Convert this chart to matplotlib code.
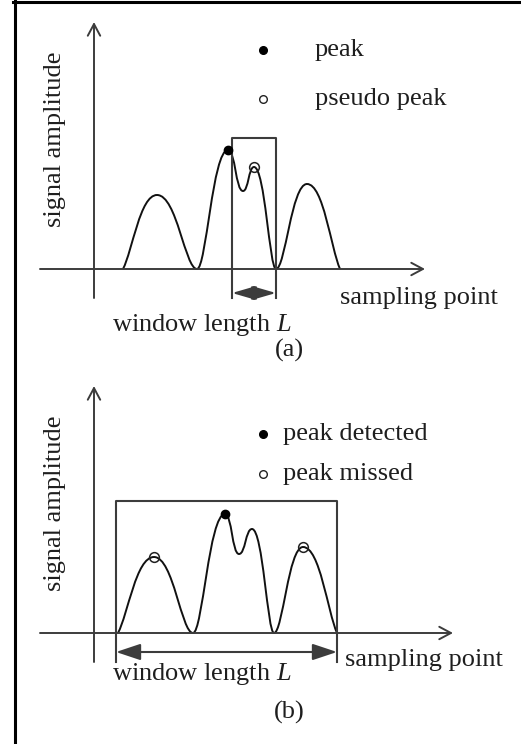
import matplotlib.pyplot as plt
from matplotlib.path import Path
from matplotlib.patches import PathPatch
from matplotlib.lines import Line2D

plt.rcParams['font.family'] = 'Liberation Serif'
plt.rcParams['mathtext.fontset'] = 'custom'
plt.rcParams['mathtext.rm'] = 'Liberation Serif'
plt.rcParams['mathtext.it'] = 'Liberation Serif:italic'

# waveform extremes (sample position, amplitude); amplitude 0 = touches the axis
wave_x_a = [2.9, 6.3, 10.3, 13.4, 14.9, 16.0, 18.2, 21.3, 24.6]
wave_y_a = [0.0, 7.4, 0.0, 11.9, 7.8, 10.2, 0.0, 8.5, 0.0]
wave_x_b = [2.4, 6.0, 9.9, 13.1, 14.5, 15.8, 18.0, 20.9, 24.3]
wave_y_b = [0.0, 7.6, 0.0, 11.9, 7.9, 10.4, 0.0, 8.6, 0.0]

# which extremes get a marker
filled_a = [3]
hollow_a = [5]
filled_b = [3]
hollow_b = [1, 7]

# window: start, end, top
window_a = (13.8, 18.2, 13.1)
window_b = (2.2, 24.3, 13.2)

legend_a = ['peak', 'pseudo peak']
legend_b = ['peak detected', 'peak missed']

AX_C = '#3c3c3c'
TXT_C = '#1e1e1e'
FS = 19


def handle(xs, ys, i, dx, dy, sign):
    # end points leave the axis at an angle, everything else is a smooth turn
    if i == 0 or i == len(xs) - 1:
        return (xs[i] + sign * 0.28 * dx, ys[i] + sign * 0.25 * dy)
    if ys[i] == 0:
        return (xs[i] + sign * 0.30 * dx, ys[i])
    return (xs[i] + sign * 0.50 * dx, ys[i])


def wave_path(xs, ys):
    verts = [(xs[0], ys[0])]
    codes = [Path.MOVETO]
    for i in range(len(xs) - 1):
        dx = xs[i + 1] - xs[i]
        dy = ys[i + 1] - ys[i]
        c1 = handle(xs, ys, i, dx, dy, 1)
        c2 = handle(xs, ys, i + 1, dx, dy, -1)
        verts += [c1, c2, (xs[i + 1], ys[i + 1])]
        codes += [Path.CURVE4] * 3
    return Path(verts, codes)


def draw_panel(ax, xs, ys, filled, hollow, window, labels, leg_x, leg_y,
               txt_x, arrow_y, head, tick, sp_x, sp_y, wl_y, tag, tag_y, xend):
    ax.set_axis_off()
    # axes with open arrowheads
    ax.annotate('', xy=(0, 24.7), xytext=(0, -2.9),
                arrowprops=dict(arrowstyle='->,head_length=0.6,head_width=0.32',
                                color=AX_C, lw=1.4, shrinkA=0, shrinkB=0,
                                mutation_scale=14))
    ax.annotate('', xy=(xend, 0), xytext=(-5.4, 0),
                arrowprops=dict(arrowstyle='->,head_length=0.6,head_width=0.32',
                                color=AX_C, lw=1.4, shrinkA=0, shrinkB=0,
                                mutation_scale=14))
    # the signal
    ax.add_patch(PathPatch(wave_path(xs, ys), fc='none', ec='#111111', lw=1.4))
    for i in filled:
        ax.plot(xs[i], ys[i], 'o', ms=6, mfc='black', mec='black', zorder=5)
    for i in hollow:
        ax.plot(xs[i], ys[i], 'o', ms=7, mfc='none', mec='#222222', mew=1.1, zorder=5)
    # window box, open at the bottom
    w0, w1, wt = window
    ax.plot([w0, w0, w1, w1], [-2.9, wt, wt, -2.9], color=AX_C, lw=1.5)
    ax.annotate('', xy=(w1, arrow_y), xytext=(w0, arrow_y),
                arrowprops=dict(arrowstyle='<|-|>,head_length=%.2f,head_width=%.2f' % head,
                                color=AX_C, lw=1.5, shrinkA=0, shrinkB=0,
                                mutation_scale=10))
    if tick:
        mid = (w0 + w1) / 2
        ax.plot([mid, mid], [arrow_y + 0.6, arrow_y - 0.6], color=AX_C, lw=1.3)
    # legend
    ax.plot(leg_x, leg_y[0], 'o', ms=5.5, mfc='black', mec='black')
    ax.plot(leg_x, leg_y[1], 'o', ms=5.5, mfc='white', mec='#222222', mew=1.0)
    for lab, y in zip(labels, leg_y):
        ax.text(txt_x, y, lab, fontsize=FS, color=TXT_C, va='center', ha='left')
    ax.text(-3.9, 13.0, 'signal amplitude', rotation=90, fontsize=FS,
            color=TXT_C, ha='center', va='center')
    ax.text(sp_x, sp_y, 'sampling point', fontsize=FS, color=TXT_C,
            ha='left', va='center')
    ax.text(10.8, wl_y, r'window length $L$', fontsize=FS, color=TXT_C,
            ha='center', va='center')
    ax.text(19.5, tag_y, tag, fontsize=FS, color=TXT_C, ha='center', va='center')


fig = plt.figure(figsize=(5.21, 7.44), dpi=100)
ax_a = fig.add_axes([0, 0.5, 1, 0.5])
ax_a.set_xlim(-9.4, 42.7)
ax_a.set_ylim(-10.3, 26.9)
ax_b = fig.add_axes([0, 0, 1, 0.5])
ax_b.set_xlim(-9.4, 42.7)
ax_b.set_ylim(-11.1, 26.1)

draw_panel(ax_a, wave_x_a, wave_y_a, filled_a, hollow_a, window_a, legend_a,
           16.9, [21.9, 17.0], 22.1, -2.4, (1.45, 0.42), True,
           24.6, -2.9, -5.6, '(a)', -8.1, 33.1)
draw_panel(ax_b, wave_x_b, wave_y_b, filled_b, hollow_b, window_b, legend_b,
           16.9, [19.9, 15.9], 18.9, -1.9, (1.5, 0.5), False,
           25.1, -2.7, -4.1, '(b)', -7.9, 35.9)

# frame lines along the top and left edge
fig.add_artist(Line2D([13 / 521, 1], [1 - 1.5 / 744, 1 - 1.5 / 744],
                      transform=fig.transFigure, color='black', lw=2.2))
fig.add_artist(Line2D([14.5 / 521, 14.5 / 521], [0, 1],
                      transform=fig.transFigure, color='black', lw=2.2))

fig.savefig('out.png', dpi=100, facecolor='white')
